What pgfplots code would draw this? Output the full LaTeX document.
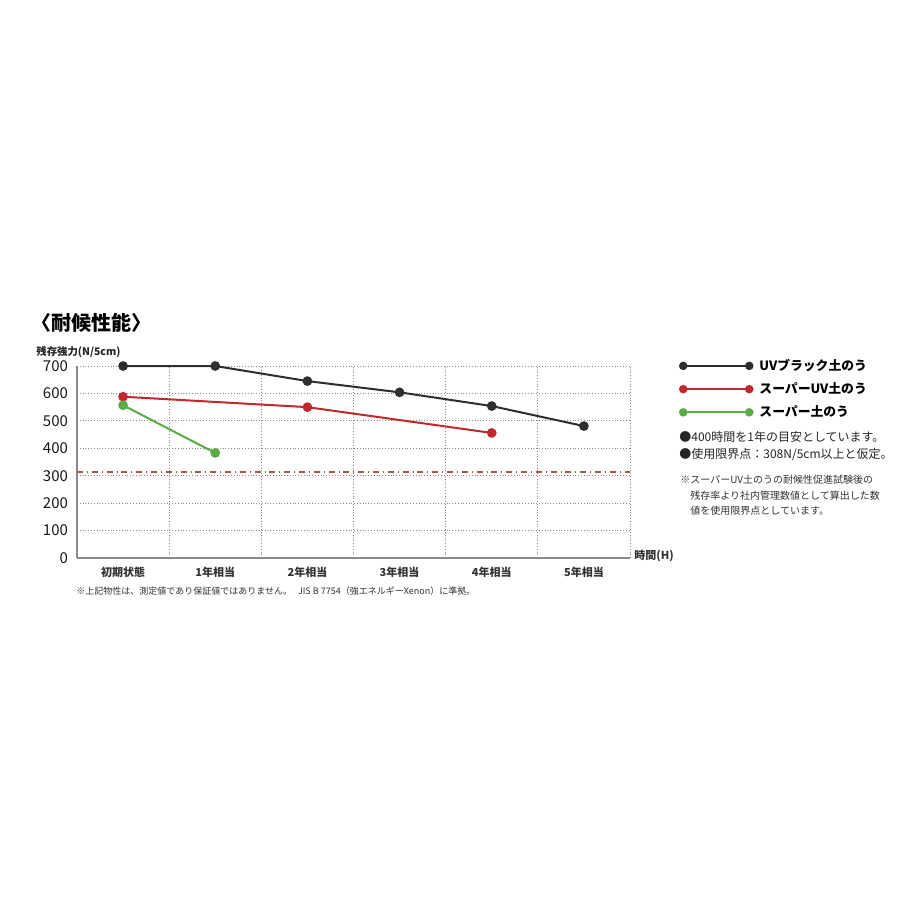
\documentclass[border=0pt]{standalone}
\usepackage{pgfplots}
\pgfplotsset{compat=1.18}
\usepackage{fontspec}
\setmainfont{Noto Sans CJK JP}
\definecolor{cblack}{HTML}{2E2E2E}
\definecolor{cred}{HTML}{C0282E}
\definecolor{cgreen}{HTML}{5AAB46}
\definecolor{cgrid}{HTML}{8A8A8A}
\definecolor{climit}{HTML}{A8584A}
\begin{document}
\begin{tikzpicture}
\path[use as bounding box, fill=white] (0pt,0pt) rectangle (450pt,-450pt);
\begin{axis}[
  at={(38.5pt,-279pt)}, anchor=south west,
  scale only axis, width=276.5pt, height=96pt,
  xmin=0, xmax=6, ymin=0, ymax=700,
  clip=false,
  axis x line*=bottom, axis y line*=left,
  axis line style={cgrid, line width=0.9pt},
  xtick={0.5,1.5,2.5,3.5,4.5,5.5},
  xticklabels={初期状態,1年相当,2年相当,3年相当,4年相当,5年相当},
  minor xtick={0,1,2,3,4,5,6},
  xminorgrids=true,
  ytick={0,100,200,300,400,500,600,700},
  ymajorgrids=true,
  grid style={cgrid, densely dotted, line width=0.4pt},
  minor grid style={cgrid, densely dotted, line width=0.4pt},
  major tick length=0pt, minor tick length=0pt,
  /pgf/number format/assume math mode=true,
  yticklabel style={font=\fontsize{7.5pt}{8pt}\selectfont, text=black!90, xshift=-1pt},
  xticklabel style={font=\fontsize{5.5pt}{6pt}\selectfont\bfseries, text=black!80, yshift=-1pt},
  legend style={at={(rel axis cs:1.088,1.05)}, anchor=north west, draw=none, fill=none,
    font=\fontsize{6.4pt}{7pt}\selectfont\bfseries, row sep=2.6pt, inner sep=0pt,
    nodes={inner xsep=3pt, inner ysep=1pt}},
  legend cell align=left,
  legend image code/.code={
    \draw[#1,mark=none] (0pt,0pt) -- (33pt,0pt);
    \fill[#1] (0pt,0pt) circle (1.6pt);
    \fill[#1] (33pt,0pt) circle (1.6pt);
  },
]
\addplot[cblack, line width=1pt, mark=*, mark size=1.9pt] coordinates {
  (0.5,700) (1.5,700) (2.5,645) (3.5,604) (4.5,554) (5.5,481)};
\addlegendentry{UVブラック土のう}
\addplot[cred, line width=1pt, mark=*, mark size=1.9pt] coordinates {
  (0.5,588) (2.5,550) (4.5,456)};
\addlegendentry{スーパーUV土のう}
\addplot[cgreen, line width=1pt, mark=*, mark size=1.9pt] coordinates {
  (0.5,557) (1.5,383)};
\addlegendentry{スーパー土のう}
\addplot[climit, dash dot, line width=0.7pt, forget plot] coordinates {(0,314) (6,314)};
\node[anchor=west, font=\fontsize{5.5pt}{6pt}\selectfont\bfseries, text=black!80, inner sep=0pt]
  at (rel axis cs:1,0) [xshift=2pt, yshift=1pt] {時間(H)};
\end{axis}
\begin{scope}[x=0.5pt, y=-0.5pt]
\node[anchor=west, font=\fontsize{10pt}{11pt}\selectfont\bfseries, inner sep=0pt] at (31,323) {〈耐候性能〉};
\node[anchor=west, font=\fontsize{5.2pt}{6pt}\selectfont\bfseries, inner sep=0pt, text=black!85] at (36,352) {残存強力(N/5cm)};
\node[anchor=west, font=\fontsize{4.5pt}{5pt}\selectfont, inner sep=0pt, text=black!80] at (76,591) {※上記物性は、測定値であり保証値ではありません。\hspace{3pt}JIS B 7754（強エネルギーXenon）に準拠。};
\node[anchor=west, font=\fontsize{6pt}{7pt}\selectfont, inner sep=0pt, text=black!85] at (679,437) {●400時間を1年の目安としています。};
\node[anchor=west, font=\fontsize{6pt}{7pt}\selectfont, inner sep=0pt, text=black!85] at (679,455) {●使用限界点：308N/5cm以上と仮定。};
\node[anchor=west, font=\fontsize{5pt}{6pt}\selectfont, inner sep=0pt, text=black!80] at (680,480) {※スーパーUV土のうの耐候性促進試験後の};
\node[anchor=west, font=\fontsize{5pt}{6pt}\selectfont, inner sep=0pt, text=black!80] at (690,496) {残存率より社内管理数値として算出した数};
\node[anchor=west, font=\fontsize{5pt}{6pt}\selectfont, inner sep=0pt, text=black!80] at (690,511) {値を使用限界点としています。};
\end{scope}
\end{tikzpicture}
\end{document}
